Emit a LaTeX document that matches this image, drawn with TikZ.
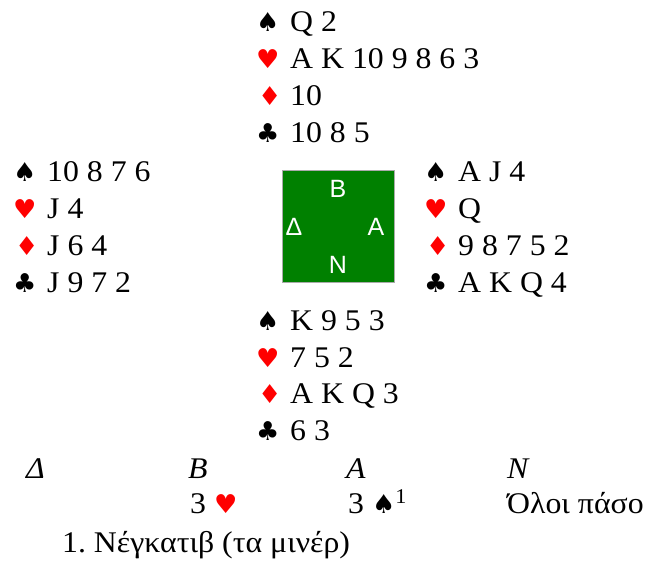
\documentclass[tikz,border=0pt]{standalone}
\usepackage{fontspec}
\setmainfont{Liberation Serif}[FakeStretch=1.06]
\newfontfamily\suitfont{DejaVu Sans}
\newfontfamily\boxfont{Liberation Sans}
\definecolor{suitred}{RGB}{255,0,0}
\definecolor{tablegreen}{RGB}{0,128,0}
\definecolor{tableedge}{RGB}{170,170,170}
\tikzset{
  cards/.style={anchor=base west, inner sep=0pt, font=\fontsize{30}{36}\selectfont},
  suitsym/.style={anchor=base west, inner sep=0pt, font=\suitfont\fontsize{26}{28}\selectfont},
  redsuit/.style={suitsym, text=suitred},
  seat/.style={font=\boxfont\fontsize{25}{28}\selectfont, text=white, inner sep=0pt, anchor=base},
  bidhead/.style={anchor=base west, inner sep=0pt, font=\fontsize{30}{36}\selectfont\itshape},
  bid/.style={anchor=base west, inner sep=0pt, font=\fontsize{30}{36}\selectfont},
}
\newcommand{\sspade}{{\suitfont\fontsize{26}{28}\selectfont ♠}}
\newcommand{\sheart}{{\suitfont\fontsize{26}{28}\selectfont\textcolor{suitred}{♥}}}
\frenchspacing
\begin{document}
\begin{tikzpicture}[x=1pt,y=-1pt]
\useasboundingbox (0,0) rectangle (646,563);
% North
\node[suitsym] (ns) at (256,31) {♠};  \node[cards] (nsc) at (290,31) {Q 2};
\node[redsuit] (nh) at (256,68) {♥};  \node[cards] (nhc) at (290,68) {A K 10 9 8 6 3};
\node[redsuit] (nd) at (258,105) {♦}; \node[cards] (ndc) at (290,105) {10};
\node[suitsym] (nc) at (256,142) {♣}; \node[cards] (ncc) at (290,142) {10 8 5};
% West
\node[suitsym] (ws) at (13,181) {♠};  \node[cards] (wsc) at (47,181) {10 8 7 6};
\node[redsuit] (wh) at (13,218) {♥};  \node[cards] (whc) at (47,218) {J 4};
\node[redsuit] (wd) at (15,255) {♦};  \node[cards] (wdc) at (47,255) {J 6 4};
\node[suitsym] (wc) at (13,292) {♣};  \node[cards] (wcc) at (47,292) {J 9 7 2};
% East
\node[suitsym] (es) at (424,181) {♠}; \node[cards] (esc) at (458,181) {A J 4};
\node[redsuit] (eh) at (424,218) {♥}; \node[cards] (ehc) at (458,218) {Q};
\node[redsuit] (ed) at (426,255) {♦}; \node[cards] (edc) at (458,255) {9 8 7 5 2};
\node[suitsym] (ec) at (424,292) {♣}; \node[cards] (ecc) at (458,292) {A K Q 4};
% South
\node[suitsym] (ss) at (256,330) {♠}; \node[cards] (ssc) at (290,330) {K 9 5 3};
\node[redsuit] (sh) at (256,367) {♥}; \node[cards] (shc) at (290,367) {7 5 2};
\node[redsuit] (sd) at (258,403) {♦}; \node[cards] (sdc) at (290,403) {A K Q 3};
\node[suitsym] (sc) at (256,440) {♣}; \node[cards] (scc) at (290,440) {6 3};
% Table
\node[draw=tableedge, line width=1pt, fill=tablegreen, minimum width=112pt, minimum height=112pt, inner sep=0pt] (table) at (338,226) {};
\node[seat] (tb) at (338,197) {B};
\node[seat] (td) at (294,235) {Δ};
\node[seat] (ta) at (376,235) {A};
\node[seat] (tn) at (338,273) {N};
% Bidding
\node[bidhead] (hd) at (26,478) {Δ};
\node[bidhead] (hb) at (188,478) {B};
\node[bidhead] (ha) at (346,478) {A};
\node[bidhead] (hn) at (507,478) {N};
\node[bid] (b1) at (190,513) {3 \sheart};
\node[bid] (b2) at (348,513) {3 \sspade\textsuperscript{1}};
\node[bid] (b3) at (507,513) {Όλοι πάσο};
\node[bid] (fn) at (62,552) {1. Νέγκατιβ (τα μινέρ)};
\end{tikzpicture}
\end{document}
